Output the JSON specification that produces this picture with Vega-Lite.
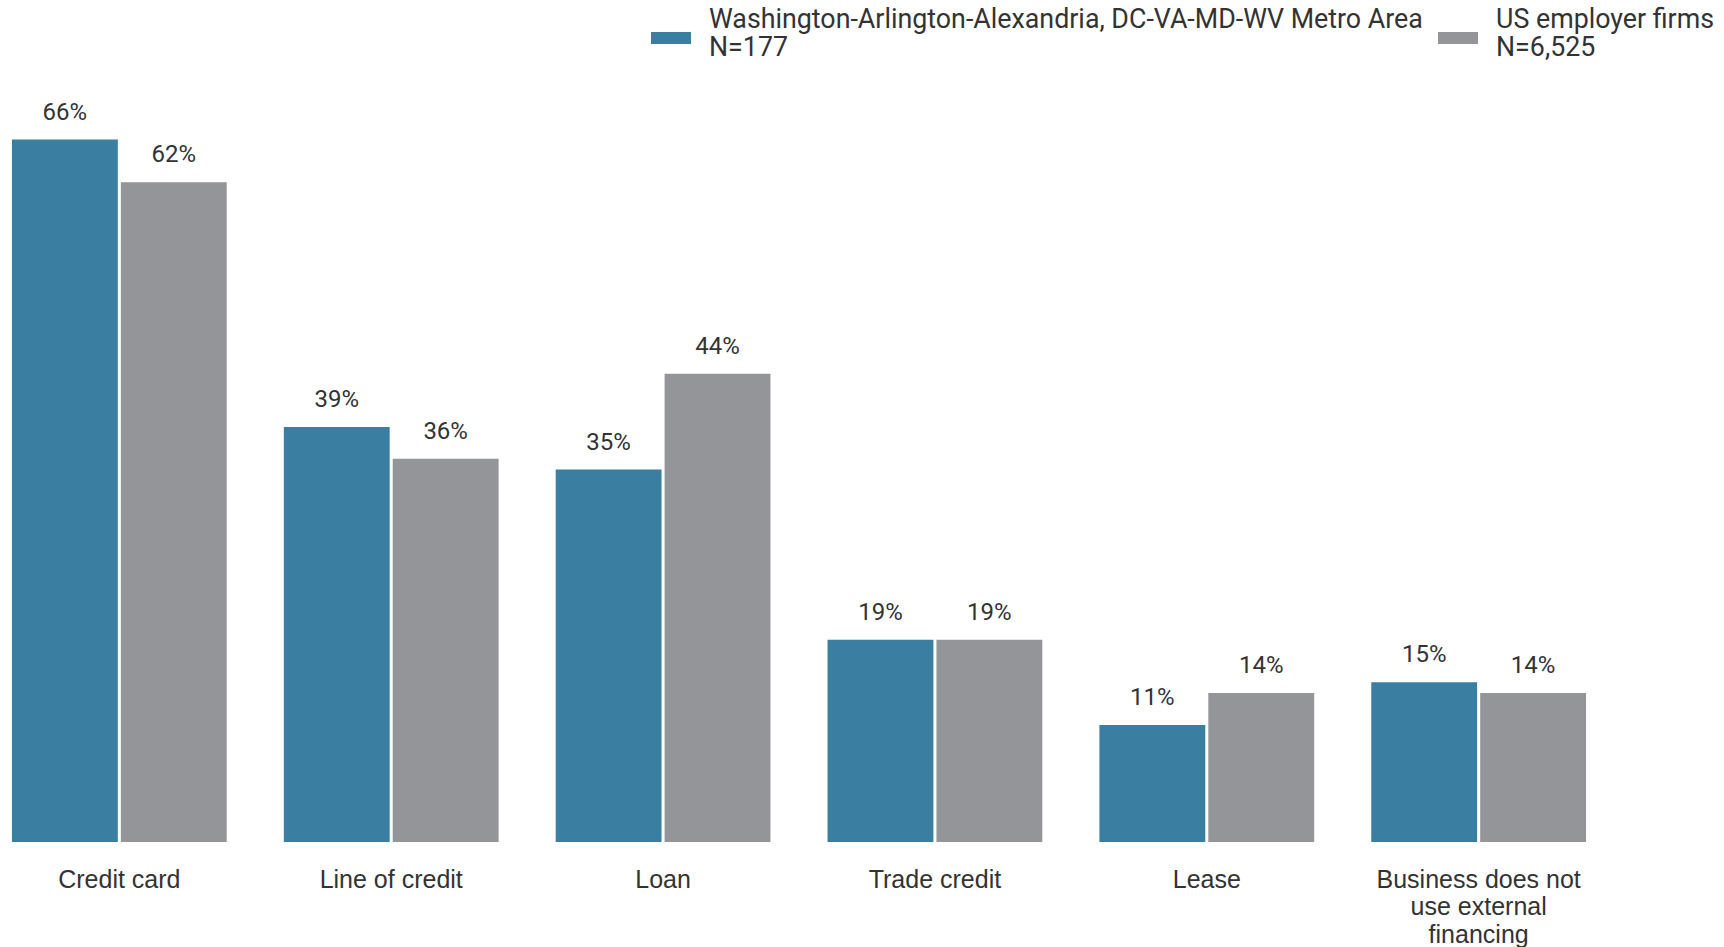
{
  "$schema": "https://vega.github.io/schema/vega-lite/v6.json",
  "autosize": "none",
  "padding": {"left": 0, "top": 97, "right": 126, "bottom": 105},
  "width": 1598,
  "height": 745,
  "background": "white",
  "config": {
    "view": {"stroke": null},
    "font": "Roboto",
    "style": {"guide-label": {"lineHeight": 28}}
  },
  "data": {
    "values": [
      {"category": "Credit card", "series": "Washington-Arlington-Alexandria, DC-VA-MD-WV Metro Area|N=177", "value": 0.66},
      {"category": "Credit card", "series": "US employer firms|N=6,525", "value": 0.62},
      {"category": "Line of credit", "series": "Washington-Arlington-Alexandria, DC-VA-MD-WV Metro Area|N=177", "value": 0.39},
      {"category": "Line of credit", "series": "US employer firms|N=6,525", "value": 0.36},
      {"category": "Loan", "series": "Washington-Arlington-Alexandria, DC-VA-MD-WV Metro Area|N=177", "value": 0.35},
      {"category": "Loan", "series": "US employer firms|N=6,525", "value": 0.44},
      {"category": "Trade credit", "series": "Washington-Arlington-Alexandria, DC-VA-MD-WV Metro Area|N=177", "value": 0.19},
      {"category": "Trade credit", "series": "US employer firms|N=6,525", "value": 0.19},
      {"category": "Lease", "series": "Washington-Arlington-Alexandria, DC-VA-MD-WV Metro Area|N=177", "value": 0.11},
      {"category": "Lease", "series": "US employer firms|N=6,525", "value": 0.14},
      {"category": "Business does not use external financing", "series": "Washington-Arlington-Alexandria, DC-VA-MD-WV Metro Area|N=177", "value": 0.15},
      {"category": "Business does not use external financing", "series": "US employer firms|N=6,525", "value": 0.14}
    ]
  },
  "encoding": {
    "x": {
      "field": "category", "type": "nominal", "sort": null,
      "scale": {"paddingInner": 0.21, "paddingOuter": 0.044},
      "axis": {
        "title": null, "domain": false, "ticks": false, "labelAngle": 0,
        "labelFont": "Liberation Sans", "labelFontSize": 25, "labelColor": "#333333",
        "labelPadding": 25, "labelLineHeight": 27.5, "labelLimit": 0,
        "labelExpr": "datum.label == 'Business does not use external financing' ? ['Business does not', 'use external', 'financing'] : datum.label"
      }
    },
    "xOffset": {
      "field": "series", "type": "nominal",
      "scale": {"domain": ["Washington-Arlington-Alexandria, DC-VA-MD-WV Metro Area|N=177", "US employer firms|N=6,525"], "paddingInner": 0.028}
    },
    "y": {
      "field": "value", "type": "quantitative",
      "scale": {"domain": [0, 0.7], "nice": false},
      "axis": null
    }
  },
  "layer": [
    {
      "mark": {"type": "bar"},
      "encoding": {
        "color": {
          "field": "series", "type": "nominal",
          "scale": {
            "domain": ["Washington-Arlington-Alexandria, DC-VA-MD-WV Metro Area|N=177", "US employer firms|N=6,525"],
            "range": ["#3a7ea1", "#939598"]
          },
          "legend": {
            "title": null, "orient": "none", "direction": "horizontal",
            "legendX": 651, "legendY": -97,
            "symbolType": "M-1,0.6H1V1.2H-1Z", "symbolSize": 1600,
            "symbolStrokeWidth": 0, "symbolOpacity": 1,
            "labelFont": "Roboto", "labelFontSize": 26.8, "labelColor": "#333333",
            "labelOffset": 18, "labelLimit": 0, "columnPadding": 15,
            "labelExpr": "split(datum.label, '|')"
          }
        }
      }
    },
    {
      "mark": {"type": "text", "baseline": "alphabetic", "dy": -20, "fontSize": 24, "color": "#333333", "font": "Roboto"},
      "encoding": {
        "text": {"field": "value", "type": "quantitative", "format": ".0%"}
      }
    }
  ]
}
